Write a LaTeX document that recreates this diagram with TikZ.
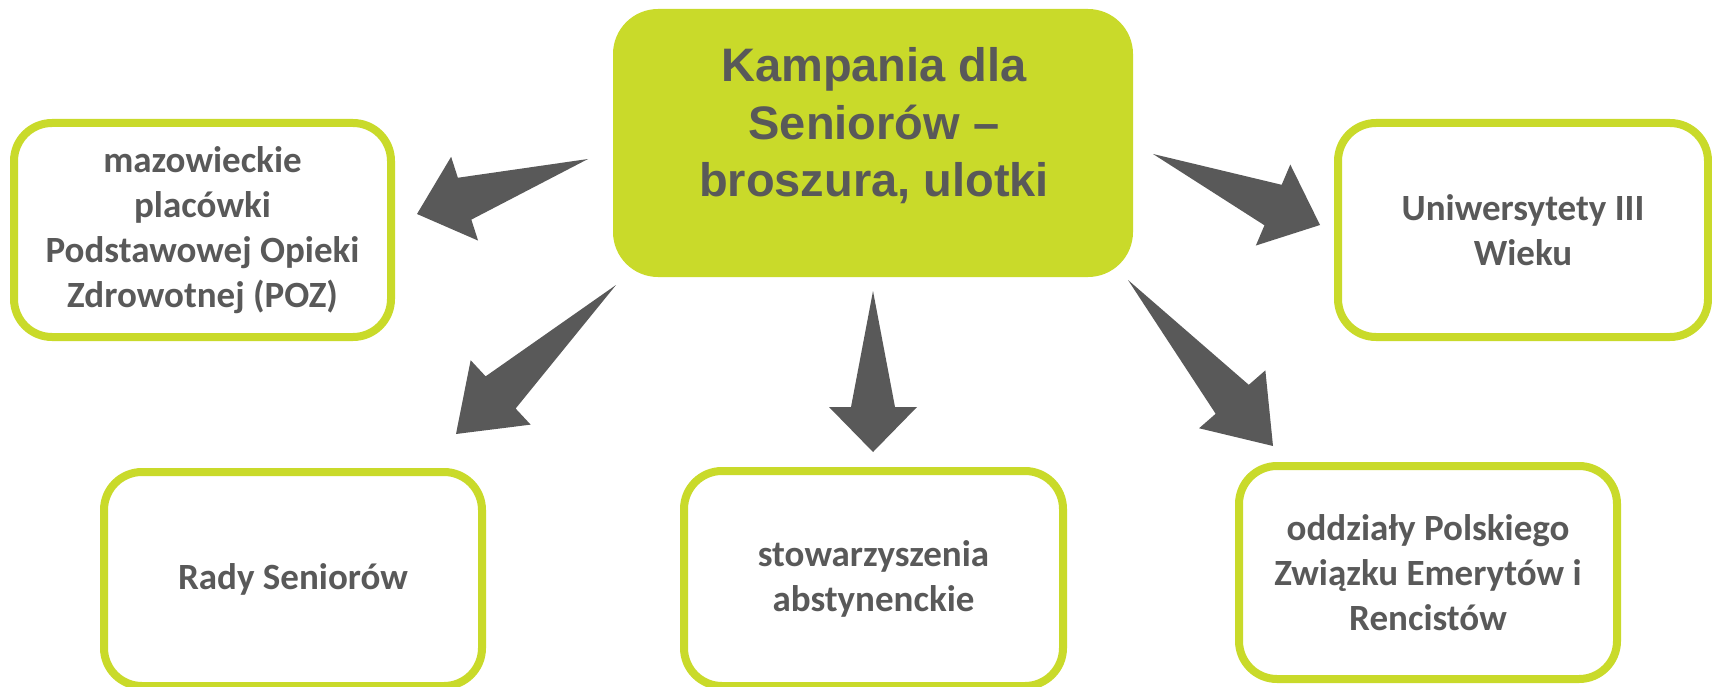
\documentclass[tikz,border=0pt]{standalone}
\usepackage{fontspec}
\setmainfont{Carlito}
\newfontfamily\titlefont{Liberation Sans}
\usetikzlibrary{calc}
\definecolor{kgreen}{HTML}{C9DA2A}
\definecolor{kgray}{HTML}{595959}
\newcommand\blockarrow[3]{%
  \path ($(#2)!#3!(#1)$) coordinate (hb);
  \fill[kgray] (#1) -- ($(hb)!22pt!90:(#2)$) -- ($(hb)!44pt!90:(#2)$) -- (#2)
    -- ($(hb)!44pt!-90:(#2)$) -- ($(hb)!22pt!-90:(#2)$) -- cycle;
}
\begin{document}
\begin{tikzpicture}[x=1pt,y=-1pt,
  box/.style={draw=kgreen, line width=8pt, rounded corners=38pt, fill=white,
    align=center, text=kgray, font=\bfseries\fontsize{37}{45}\selectfont},
  mainbox/.style={fill=kgreen, rounded corners=45pt, minimum width=520pt, minimum height=268pt},
  maintext/.style={align=center, text=kgray, font=\titlefont\bfseries\fontsize{47}{57.5}\selectfont}]
\useasboundingbox (0,0) rectangle (1712,687);
\clip (0,0) rectangle (1712,687);
% central node
\node[mainbox] (main) at (873,143) {};
\node[maintext] (maintitle) at (874,126) {Kampania dla\\Seniorów –\\broszura, ulotki};
% target boxes
\node[box, minimum width=377pt, minimum height=214pt] (poz) at (202.5,230)
  {mazowieckie\\placówki\\Podstawowej Opieki\\Zdrowotnej (POZ)};
\node[box, minimum width=370pt, minimum height=214pt] (utw) at (1523,230)
  {Uniwersytety III\\Wieku};
\node[box, minimum width=378pt, minimum height=214pt] (rady) at (293,579)
  {Rady Seniorów};
\node[box, minimum width=379pt, minimum height=215pt] (stow) at (873.5,578.5)
  {stowarzyszenia\\abstynenckie};
\node[box, minimum width=378pt, minimum height=213pt] (pzer) at (1428,572.5)
  {oddziały Polskiego\\Związku Emerytów i\\Rencistów};
% arrow ends
\coordinate (t1) at (588,159); \coordinate (h1) at (417,214);
\coordinate (t2) at (616,285); \coordinate (h2) at (456,434);
\coordinate (t3) at (873,291); \coordinate (h3) at (873,452);
\coordinate (t4) at (1153,154); \coordinate (h4) at (1320,225);
\coordinate (t5) at (1128,280); \coordinate (h5) at (1273,446);
\blockarrow{t1}{h1}{50pt}
\blockarrow{t2}{h2}{61pt}
\blockarrow{t3}{h3}{45pt}
\blockarrow{t4}{h4}{51pt}
\blockarrow{t5}{h5}{62pt}
\end{tikzpicture}
\end{document}
